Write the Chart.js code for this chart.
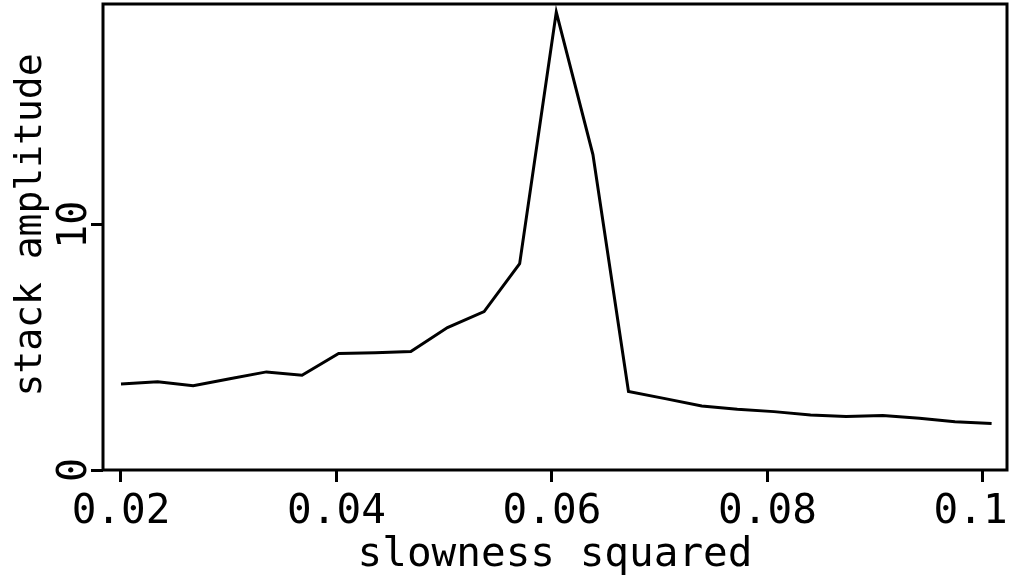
<!DOCTYPE html>
<html>
<head>
<meta charset="utf-8">
<script src="https://cdn.jsdelivr.net/npm/chart.js@4"></script>
<style>
  html, body { margin: 0; padding: 0; background: #fff; }
  #wrap { width: 1011px; height: 576px; }
</style>
</head>
<body>
<div id="wrap"><canvas id="stackChart"></canvas></div>
<script>
// slowness squared (x) and stack amplitude (y)
const slownessSq = [0.0200, 0.0234, 0.0267, 0.0301, 0.0335, 0.0368, 0.0402, 0.0436, 0.0469, 0.0503,
                    0.0537, 0.0570, 0.0604, 0.0638, 0.0671, 0.0705, 0.0739, 0.0772, 0.0806, 0.0840,
                    0.0873, 0.0907, 0.0941, 0.0974, 0.1008];
const amplitude = [3.51, 3.60, 3.44, 3.72, 4.00, 3.86, 4.75, 4.78, 4.83, 5.81,
                   6.46, 8.41, 18.67, 12.86, 3.20, 2.91, 2.61, 2.48, 2.38, 2.24,
                   2.18, 2.22, 2.11, 1.97, 1.90];
const xTicks = [0.02, 0.04, 0.06, 0.08, 0.1];
const xTickLabels = ['0.02', '0.04', '0.06', '0.08', '0.1 ']; // trailing space keeps 0.1 inside the canvas
const yTicks = [0, 10];
const yTickLabels = ['0', '10'];
const yTitle = 'stack amplitude';

const FONT = '"DejaVu Sans Mono", "Liberation Mono", monospace';

// frame round the plot area, rotated y tick labels and y title
const framePlugin = {
    id: 'frame',
    afterDraw(chart) {
        const { ctx, chartArea: a } = chart;
        ctx.save();
        ctx.strokeStyle = '#000';
        ctx.lineWidth = 3;
        ctx.strokeRect(a.left, a.top, a.right - a.left, a.bottom - a.top);

        ctx.fillStyle = '#000';
        ctx.textAlign = 'center';
        ctx.textBaseline = 'middle';
        ctx.font = '40px ' + FONT;
        yTicks.forEach((v, i) => {
            const py = chart.scales.y.getPixelForValue(v);
            ctx.save();
            ctx.translate(76, py);
            ctx.rotate(-Math.PI / 2);
            ctx.fillText(yTickLabels[i], 0, 0);
            ctx.restore();
        });

        ctx.font = '38px ' + FONT;
        ctx.save();
        ctx.translate(31, 225);
        ctx.rotate(-Math.PI / 2);
        ctx.fillText(yTitle, 0, 0);
        ctx.restore();
        ctx.restore();
    }
};

new Chart(document.getElementById('stackChart').getContext('2d'), {
    type: 'line',
    data: {
        datasets: [{
            data: slownessSq.map((x, i) => ({ x: x, y: amplitude[i] })),
            borderColor: '#000', borderWidth: 3, tension: 0, fill: false, pointRadius: 0
        }]
    },
    options: {
        responsive: true, maintainAspectRatio: false, animation: false,
        layout: { padding: { top: 4, right: 4, left: 0, bottom: 0 } },
        plugins: { legend: { display: false }, tooltip: { enabled: false } },
        scales: {
            x: {
                type: 'linear', min: 0.01833, max: 0.10223,
                afterBuildTicks: (s) => { s.ticks = xTicks.map(v => ({ value: v })); },
                afterFit: (s) => { s.height = 106; s.paddingLeft = 0; s.paddingRight = 0; },
                border: { display: false },
                grid: { drawOnChartArea: false, drawTicks: true, tickLength: 12, lineWidth: 3, color: '#000' },
                ticks: {
                    color: '#000', font: { family: FONT, size: 41 }, padding: 6, maxRotation: 0,
                    callback: (v) => xTickLabels[xTicks.indexOf(v)]
                },
                title: { display: true, text: 'slowness squared', color: '#000',
                         font: { family: FONT, size: 41, lineHeight: 1.0 }, padding: { top: 0, bottom: 0 } }
            },
            y: {
                min: 0, max: 19,
                afterBuildTicks: (s) => { s.ticks = yTicks.map(v => ({ value: v })); },
                afterFit: (s) => { s.width = 103; s.paddingTop = 0; s.paddingBottom = 0; },
                border: { display: false },
                grid: { drawOnChartArea: false, drawTicks: true, tickLength: 12, lineWidth: 3, color: '#000' },
                ticks: { display: false }
            }
        }
    },
    plugins: [framePlugin]
});
</script>
</body>
</html>
